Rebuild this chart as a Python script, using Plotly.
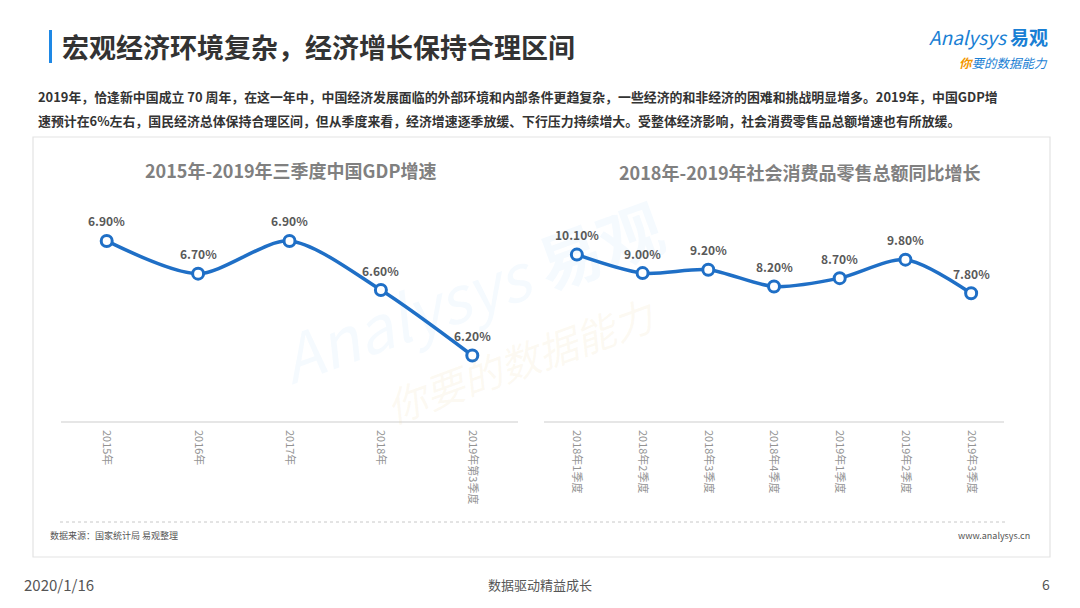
import plotly.graph_objects as go

# GDP growth, 2015 - 2019 Q3
gdp_years = ['2015年', '2016年', '2017年', '2018年', '2019年第3季度']
gdp_growth = [6.9, 6.7, 6.9, 6.6, 6.2]

# Retail sales of consumer goods, year-on-year growth
retail_quarters = ['2018年1季度', '2018年2季度', '2018年3季度', '2018年4季度',
                   '2019年1季度', '2019年2季度', '2019年3季度']
retail_growth = [10.1, 9.0, 9.2, 8.2, 8.7, 9.8, 7.8]

W, H = 1080, 608
FONT = 'Noto Sans CJK SC'
BLUE = '#1f6fc6'


def px(x):
    return x / W


def py(y):
    return 1 - y / H


fig = go.Figure()

fig.add_trace(go.Scatter(
    x=gdp_years, y=gdp_growth, xaxis='x', yaxis='y',
    mode='lines+markers',
    line=dict(color=BLUE, width=3.5, shape='spline', smoothing=0.8),
    marker=dict(size=11, color='white', line=dict(color=BLUE, width=3)),
    cliponaxis=False, hoverinfo='skip'))

fig.add_trace(go.Scatter(
    x=retail_quarters, y=retail_growth, xaxis='x2', yaxis='y2',
    mode='lines+markers',
    line=dict(color=BLUE, width=3.5, shape='spline', smoothing=0.8),
    marker=dict(size=11, color='white', line=dict(color=BLUE, width=3)),
    cliponaxis=False, hoverinfo='skip'))

xax = dict(type='category', showgrid=False, zeroline=False, showline=True,
           linecolor='#e6e6e6', linewidth=1.5, ticks='', tickangle=90,
           ticklabelstandoff=5,
           tickfont=dict(family=FONT, size=11, color='#939393'),
           fixedrange=True)
yax = dict(visible=False, fixedrange=True)

fig.update_layout(
    width=W, height=H, margin=dict(l=0, r=0, t=0, b=0),
    paper_bgcolor='white', plot_bgcolor='rgba(0,0,0,0)',
    showlegend=False, font=dict(family=FONT),
    xaxis={**xax, 'domain': [px(61), px(518)], 'anchor': 'y', 'range': [-0.5, 4.5]},
    yaxis={**yax, 'domain': [py(421), py(200)], 'range': [5.80, 7.15]},
    xaxis2={**xax, 'domain': [px(544), px(1004)], 'anchor': 'y2', 'range': [-0.5, 6.5]},
    yaxis2={**yax, 'domain': [py(421), py(200)], 'range': [0.2, 13.35]},
)

shapes = [
    # header accent bar
    dict(type='rect', xref='paper', yref='paper', x0=px(49), x1=px(52),
         y0=py(63), y1=py(30), fillcolor='#1e88e5', line=dict(width=0)),
    # panel frame
    dict(type='rect', xref='paper', yref='paper', x0=px(33), x1=px(1050),
         y0=py(557), y1=py(137), fillcolor='rgba(0,0,0,0)',
         line=dict(color='#e3e3e3', width=1.2)),
    # dotted separator above the source line
    dict(type='line', xref='paper', yref='paper', x0=px(60), x1=px(1005),
         y0=py(522), y1=py(522), line=dict(color='#c8c8c8', width=1, dash='dot')),
]

annotations = [
    dict(text='宏观经济环境复杂，经济增长保持合理区间', x=px(60), y=py(47),
         xanchor='left', yanchor='middle',
         font=dict(family=FONT, size=27, color='#333333', weight='bold')),
    dict(text='<i>Analysys</i> <b>易观</b>', x=px(1050), y=py(37),
         xanchor='right', yanchor='middle',
         font=dict(family=FONT, size=19, color='#1a7fd4')),
    dict(text='<i><b><span style="color:#f39800">你</span></b>要的数据能力</i>',
         x=px(1050), y=py(62), xanchor='right', yanchor='middle',
         font=dict(family=FONT, size=12.5, color='#1a7fd4')),
    dict(text='2019年，恰逢新中国成立 70 周年，在这一年中，中国经济发展面临的外部环境和内部条件更趋复杂，'
              '一些经济的和非经济的困难和挑战明显增多。2019年，中国GDP增',
         x=px(36), y=py(97), xanchor='left', yanchor='middle',
         font=dict(family=FONT, size=12.9, color='#333333', weight='bold')),
    dict(text='速预计在6%左右，国民经济总体保持合理区间，但从季度来看，经济增速逐季放缓、下行压力持续增大。'
              '受整体经济影响，社会消费零售品总额增速也有所放缓。',
         x=px(36), y=py(120), xanchor='left', yanchor='middle',
         font=dict(family=FONT, size=12.9, color='#333333', weight='bold')),
    dict(text='2015年-2019年三季度中国GDP增速', x=px(290), y=py(170),
         xanchor='center', yanchor='middle',
         font=dict(family=FONT, size=18, color='#808080', weight='bold')),
    dict(text='2018年-2019年社会消费品零售总额同比增长', x=px(800), y=py(172),
         xanchor='center', yanchor='middle',
         font=dict(family=FONT, size=18, color='#808080', weight='bold')),
    dict(text='数据来源：国家统计局 易观整理', x=px(48), y=py(535),
         xanchor='left', yanchor='middle',
         font=dict(family=FONT, size=9, color='#555555')),
    dict(text='www.analysys.cn', x=px(1032), y=py(535),
         xanchor='right', yanchor='middle',
         font=dict(family=FONT, size=9, color='#555555')),
    dict(text='2020/1/16', x=px(22), y=py(584), xanchor='left', yanchor='middle',
         font=dict(family=FONT, size=15, color='#555555')),
    dict(text='数据驱动精益成长', x=px(540), y=py(584), xanchor='center', yanchor='middle',
         font=dict(family=FONT, size=13, color='#555555')),
    dict(text='6', x=px(1052), y=py(584), xanchor='right', yanchor='middle',
         font=dict(family=FONT, size=14, color='#555555')),
    # faint watermark
    dict(text='<i>Analysys</i> <b>易观</b>', x=px(470), y=py(290), textangle=-20,
         xanchor='center', yanchor='middle',
         font=dict(family=FONT, size=64, color='rgba(30,136,229,0.045)')),
    dict(text='<i>你要的数据能力</i>', x=px(520), y=py(360), textangle=-20,
         xanchor='center', yanchor='middle',
         font=dict(family=FONT, size=40, color='rgba(230,200,120,0.10)')),
]
for a in annotations:
    a.update(xref='paper', yref='paper', showarrow=False)

# value labels above each point
label_font = dict(family=FONT, size=12, color='#595959', weight='bold')
for cat, val in zip(gdp_years, gdp_growth):
    annotations.append(dict(x=cat, y=val, xref='x', yref='y', text=f'{val:.2f}%',
                            showarrow=False, yshift=20, font=label_font))
for cat, val in zip(retail_quarters, retail_growth):
    annotations.append(dict(x=cat, y=val, xref='x2', yref='y2', text=f'{val:.2f}%',
                            showarrow=False, yshift=20, font=label_font))

fig.update_layout(shapes=shapes, annotations=annotations)

fig.write_html('out.html', config={'displayModeBar': False},
               post_script="document.body.style.margin='0';")
